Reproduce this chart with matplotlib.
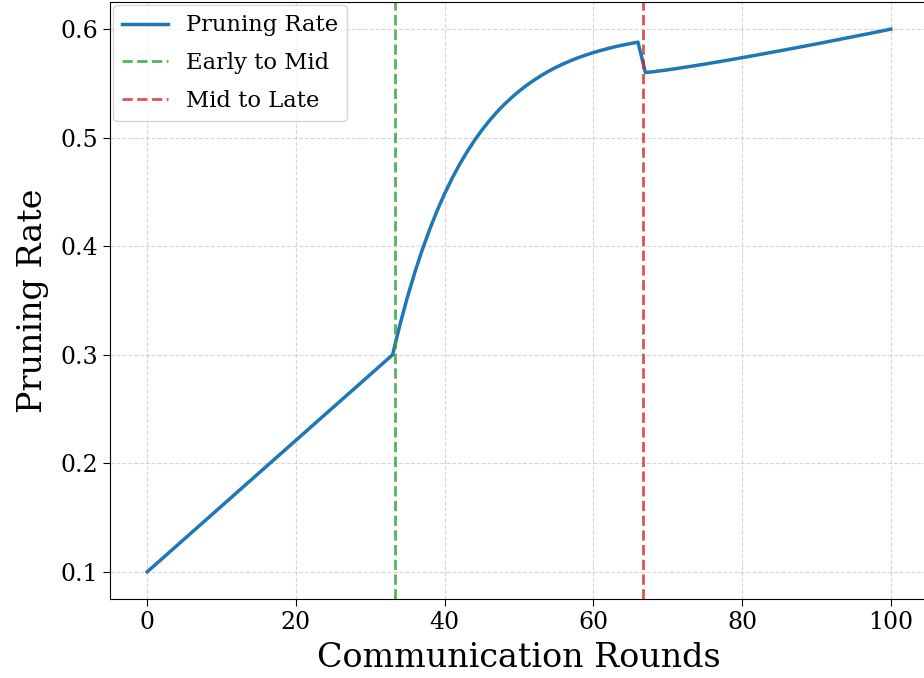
import matplotlib
matplotlib.use('Agg')
from matplotlib import pyplot as plt
import numpy as np

plt.rcParams['font.family'] = 'DejaVu Serif'

# pruning schedule, three phases
early_rounds = [0, 33]
early_rate = [0.100, 0.298]

mid_rounds = list(range(33, 67))
mid_rate = [0.3000, 0.3279, 0.3532, 0.3761, 0.3969, 0.4157, 0.4329, 0.4484,
            0.4625, 0.4753, 0.4868, 0.4973, 0.5069, 0.5155, 0.5234, 0.5305,
            0.5369, 0.5428, 0.5481, 0.5529, 0.5573, 0.5613, 0.5649, 0.5681,
            0.5711, 0.5738, 0.5762, 0.5784, 0.5804, 0.5822, 0.5839, 0.5854,
            0.5867, 0.5880]

late_rounds = list(range(67, 101))
late_rate = [0.5600, 0.5607, 0.5616, 0.5625, 0.5635, 0.5646, 0.5656, 0.5667,
             0.5678, 0.5690, 0.5701, 0.5713, 0.5725, 0.5737, 0.5749, 0.5762,
             0.5774, 0.5787, 0.5799, 0.5812, 0.5825, 0.5838, 0.5851, 0.5864,
             0.5877, 0.5891, 0.5904, 0.5918, 0.5931, 0.5945, 0.5958, 0.5972,
             0.5986, 0.6000]

early_to_mid = 100 / 3
mid_to_late = 200 / 3

rounds = early_rounds + mid_rounds[1:] + late_rounds
rate = early_rate[:-1] + mid_rate + late_rate

fig = plt.figure(figsize=(9.24, 6.78), dpi=100)
ax = fig.add_axes([110 / 924, 1 - 599 / 678, 818 / 924, 597 / 678])

ax.plot(rounds, rate, color='tab:blue', linewidth=2.5, label='Pruning Rate')
ax.axvline(early_to_mid, color='tab:green', linestyle='--', linewidth=2,
           alpha=0.8, label='Early to Mid')
ax.axvline(mid_to_late, color='tab:red', linestyle='--', linewidth=2,
           alpha=0.8, label='Mid to Late')

ax.set_xlabel('Communication Rounds', fontsize=24, labelpad=6)
ax.set_ylabel('Pruning Rate', fontsize=24, labelpad=8)
ax.set_xticks([0, 20, 40, 60, 80, 100])
ax.set_yticks([0.1, 0.2, 0.3, 0.4, 0.5, 0.6])
ax.tick_params(labelsize=17, length=5)
ax.grid(True, linestyle='--', alpha=0.5)
ax.legend(loc='upper left', fontsize=16.3, borderaxespad=0.15,
          labelspacing=0.7)

plt.savefig('out.png', dpi=100)
